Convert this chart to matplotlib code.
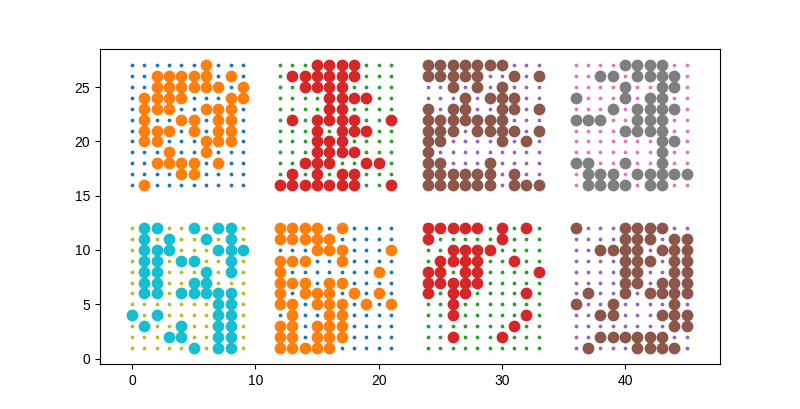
import matplotlib
matplotlib.use("Agg")
import matplotlib.pyplot as plt
import numpy as np

plt.rcParams['font.family'] = ['Liberation Sans', 'DejaVu Sans']

# each grid: 12 rows from top to bottom, 10 columns
grid_top1 = ["0000001000","0011111010","0011111101","0111100011","0111001110","0100110110",
             "0111010110","0110001110","0001001000","0011110100","0000110000","0100000000"]
grid_top2 = ["0001111000","0111111000","0011110000","0000111100","0000110000","0101111001",
             "0001011100","0001110000","0001111000","0011100110","0101011000","1111111001"]
grid_top3 = ["1111111000","1111100101","0010101000","0001011100","1011001101","1111111000",
             "1110111101","1100001010","1000000000","1100010000","1111110100","1111110111"]
grid_top4 = ["0000111100","0011011110","0000100110","1000101100","0001011110","1110011100",
             "0000111100","0000000110","0000000100","1100100100","0111011111","0111101100"]
grid_bot1 = ["0110010110","0101001010","0111000111","0110110010","0110001010","0110011000",
             "0110111110","0000000110","1010000110","0100100110","0001100110","0000010110"]
grid_bot2 = ["1111010000","1111100000","0001110001","1110010000","1000000010","1110110000",
             "1011101010","1101110101","0100110000","1101110000","1101110000","1111100000"]
grid_bot3 = ["1111101010","1000001000","0011110000","0111100100","1101100001","1111100000",
             "1011000010","0010000000","0010000010","0000000100","0010001000","0000000000"]
grid_bot4 = ["1000111100","0000111011","0011110111","0000111011","0000110011","0000110111",
             "0100101111","1001000010","0011000111","0000000011","0011111100","0100011110"]

grids = [grid_top1, grid_top2, grid_top3, grid_top4, grid_bot1, grid_bot2, grid_bot3, grid_bot4]
x_offsets = [0, 12, 24, 36, 0, 12, 24, 36]
y_tops = [27, 27, 27, 27, 12, 12, 12, 12]
small_colors = ["tab:blue", "tab:green", "tab:purple", "tab:pink", "tab:olive", "tab:blue", "tab:green", "tab:purple"]
big_colors = ["tab:orange", "tab:red", "tab:brown", "tab:gray", "tab:cyan", "tab:orange", "tab:red", "tab:brown"]

fig, ax = plt.subplots(figsize=(8, 4.09), dpi=100)
for g, x0, yt, sc, bc in zip(grids, x_offsets, y_tops, small_colors, big_colors):
    arr = np.array([[int(c) for c in row] for row in g])
    xs, ys = np.meshgrid(np.arange(10) + x0, yt - np.arange(12))
    ax.scatter(xs.ravel(), ys.ravel(), s=3, color=sc)
    m = arr.ravel() == 1
    ax.scatter(xs.ravel()[m], ys.ravel()[m], s=56, color=bc)
ax.set_xlim(-2.6, 47.7)
ax.set_ylim(-0.5, 28.5)
fig.savefig("out.png")
